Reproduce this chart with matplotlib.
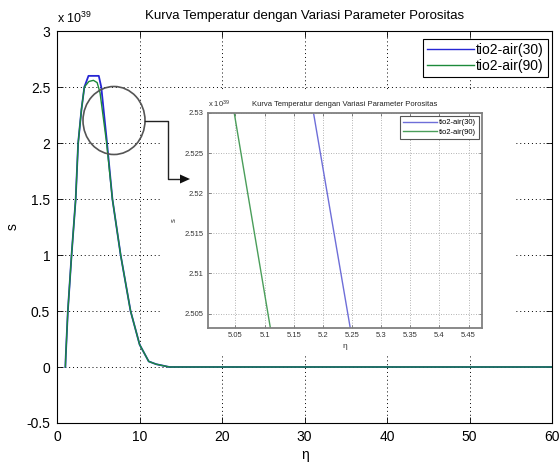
"""
Kurva temperatur, two porosity cases, with a zoomed inset near the peak.
"""
import matplotlib
matplotlib.use('Agg')
import matplotlib.pyplot as plt
from matplotlib.patches import Rectangle, Ellipse, Polygon
from matplotlib.lines import Line2D
from matplotlib.ticker import FuncFormatter, MultipleLocator

plt.rcParams['font.family'] = ['Liberation Sans', 'DejaVu Sans']
plt.rcParams['mathtext.default'] = 'regular'

# ---- data (s in units of 1e39) ----
eta_30 = [1.0, 1.05, 1.3, 1.75, 2.25, 2.55, 2.95, 3.3, 3.8, 5.05, 5.35, 6.05,
          6.7, 7.7, 8.9, 10.0, 11.1, 12.0, 13.6, 60.0]
s_30 = [0.0, 0.1, 0.5, 1.0, 1.5, 2.0, 2.3, 2.5, 2.6, 2.6, 2.5, 2.0,
        1.5, 1.0, 0.5, 0.2, 0.05, 0.025, 0.0, 0.0]

eta_90 = [1.0, 1.05, 1.3, 1.75, 2.25, 2.55, 2.95, 3.3, 3.85, 4.4, 4.85, 5.2,
          6.0, 6.7, 7.7, 8.9, 10.0, 11.1, 12.0, 13.6, 60.0]
s_90 = [0.0, 0.1, 0.5, 1.0, 1.5, 2.0, 2.3, 2.5, 2.55, 2.56, 2.54, 2.45,
        2.0, 1.5, 1.0, 0.5, 0.2, 0.05, 0.025, 0.0, 0.0]

# zoomed segment shown in the inset
zoom_eta_30 = [5.184, 5.247]
zoom_eta_90 = [5.048, 5.110]
zoom_s = [2.53, 2.5032]

labels = ['tio2-air(30)', 'tio2-air(90)']
xticks_main = [0, 10, 20, 30, 40, 50, 60]

BLUE = '#2626d4'
GREEN = '#1c8a3a'
W, H = 560, 466

fig = plt.figure(figsize=(W / 100, H / 100), dpi=100)
fig.patch.set_facecolor('white')

def fx(px):
    return px / W

def fy(py):
    return 1 - py / H

# ====== MAIN AXES ======
ax = fig.add_axes([0.102, 0.0923, 0.884, 0.841])
ax.plot(eta_30, s_30, color=BLUE, lw=1.3, label=labels[0])
ax.plot(eta_90, s_90, color=GREEN, lw=1.0, label=labels[1])
ax.set_xlim(0, 60)
ax.set_ylim(-0.5, 3)
ax.set_xticks(xticks_main)
ax.yaxis.set_major_locator(MultipleLocator(0.5))
ax.yaxis.set_major_formatter(FuncFormatter(lambda v, p: '%g' % v))
ax.grid(True, color='black', linestyle=(0, (1, 3)), lw=0.7)
ax.tick_params(direction='in', top=True, right=True, length=4, width=0.6,
               labelsize=10, pad=5)
for sp in ax.spines.values():
    sp.set_linewidth(0.8)
ax.set_title('Kurva Temperatur dengan Variasi Parameter Porositas',
             fontsize=9.5, pad=9)
ax.set_xlabel('η', fontsize=10, labelpad=3)
ax.set_ylabel('s', fontsize=10, labelpad=5)
ax.text(0.0, 1.012, 'x 10$^{39}$', transform=ax.transAxes, fontsize=9,
        ha='left', va='bottom')
leg = ax.legend(loc='upper right', bbox_to_anchor=(fx(548), fy(39)),
                bbox_transform=fig.transFigure, borderaxespad=0, fontsize=10,
                handlelength=3.4, handletextpad=0.15, labelspacing=0.15,
                borderpad=0.3, fancybox=False, framealpha=1, edgecolor='black')
leg.get_frame().set_linewidth(0.8)
for ln in leg.get_lines():
    ln.set_linewidth(1.0)

# ====== INSET (pasted picture look) ======
fig.add_artist(Rectangle((fx(160), fy(356)), fx(356), 266 / H,
                         transform=fig.transFigure, facecolor='white',
                         edgecolor='none', zorder=2))

ins = fig.add_axes([fx(208), fy(328), fx(274), 215 / H], zorder=3)
ins.plot(zoom_eta_30, zoom_s, color='#6e6ed8', lw=1.0, label=labels[0])
ins.plot(zoom_eta_90, zoom_s, color='#4a9e5a', lw=1.0, label=labels[1])
ins.xaxis.set_major_locator(MultipleLocator(0.05))
ins.yaxis.set_major_locator(MultipleLocator(0.005))
ins.xaxis.set_major_formatter(FuncFormatter(lambda v, p: '%g' % round(v, 3)))
ins.yaxis.set_major_formatter(FuncFormatter(lambda v, p: '%g' % round(v, 4)))
ins.set_xlim(5.003, 5.473)
ins.set_ylim(2.5032, 2.53)
ins.grid(True, color='#9a9a9a', linestyle=(0, (1, 2)), lw=0.6)
ins.tick_params(direction='in', top=True, right=True, length=2.5, width=0.5,
                labelsize=5.5, labelcolor='#333333', color='#555555', pad=3)
for sp in ins.spines.values():
    sp.set_linewidth(1.3)
    sp.set_color('#808080')
ins.set_title('Kurva Temperatur dengan Variasi Parameter Porositas',
              fontsize=5.5, pad=5, color='#222222')
ins.set_xlabel('η', fontsize=6, labelpad=3, color='#333333')
ins.set_ylabel('s', fontsize=5.5, labelpad=5, color='#333333')
ins.text(0.0, 1.015, 'x 10$^{39}$', transform=ins.transAxes, fontsize=5.5,
         ha='left', va='bottom', color='#333333')
ileg = ins.legend(loc='upper right', fontsize=5.5, handlelength=4.5,
                  handletextpad=0.2, labelspacing=0.3, borderpad=0.4,
                  borderaxespad=0.4, fancybox=False, framealpha=1,
                  edgecolor='#555555')
ileg.get_frame().set_linewidth(0.8)

# ====== CIRCLE + ARROW ======
fig.add_artist(Ellipse((fx(114), fy(120.5)), fx(62), 68 / H,
                       transform=fig.transFigure, fill=False,
                       edgecolor='#555555', lw=1.2, zorder=4))
fig.add_artist(Line2D([fx(145), fx(167.5), fx(167.5), fx(181)],
                      [fy(121), fy(121), fy(179), fy(179)],
                      transform=fig.transFigure, color='#222222', lw=1.0,
                      zorder=4))
fig.add_artist(Polygon([(fx(180), fy(174.5)), (fx(190), fy(179)),
                        (fx(180), fy(183.5))], closed=True,
                       transform=fig.transFigure, facecolor='#111111',
                       edgecolor='none', zorder=4))

plt.savefig('out.png', dpi=100, facecolor='white')
plt.close()
